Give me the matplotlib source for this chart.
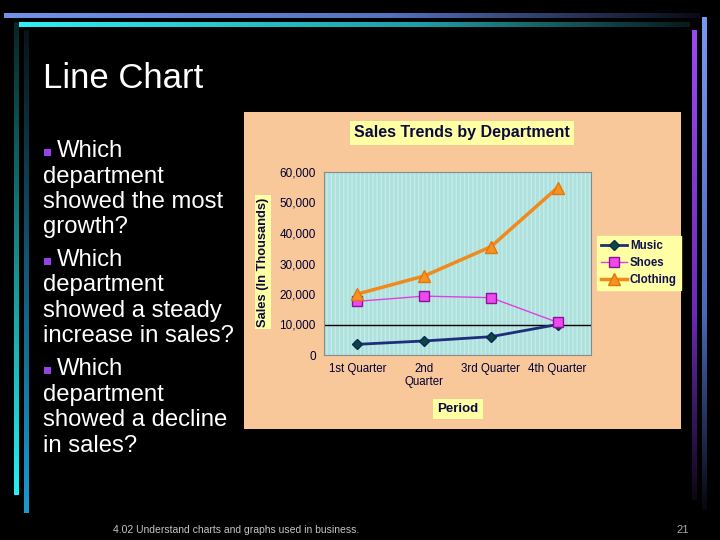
import numpy as np
import matplotlib
matplotlib.use('Agg')
import matplotlib.pyplot as plt
from matplotlib.colors import to_rgb
from matplotlib.patches import Rectangle

# 데이터
quarters = ['1st Quarter', '2nd\nQuarter', '3rd Quarter', '4th Quarter']
music = [3500, 4600, 6000, 10000]
shoes = [17600, 19300, 18800, 10700]
clothing = [20000, 25900, 35500, 54900]
y_ticks = [0, 10000, 20000, 30000, 40000, 50000, 60000]

bullets = [
    ['Which', 'department', 'showed the most', 'growth?'],
    ['Which', 'department', 'showed a steady', 'increase in sales?'],
    ['Which', 'department', 'showed a decline', 'in sales?'],
]

W, H = 720, 540
fig = plt.figure(figsize=(7.2, 5.4), dpi=100, facecolor='black')

# 배경 (픽셀 좌표계)
bg = fig.add_axes([0, 0, 1, 1])
bg.set_facecolor('black')
bg.axis('off')


def grad_bar(x0, x1, y0, y1, stops, horizontal=True):
    # stops: [(t, color), ...]
    t = np.linspace(0, 1, 256)
    ts = [s[0] for s in stops]
    rgb = np.array([to_rgb(s[1]) for s in stops])
    cols = np.stack([np.interp(t, ts, rgb[:, i]) for i in range(3)], axis=1)
    img = cols[None, :, :] if horizontal else cols[:, None, :]
    bg.imshow(img, extent=(x0, x1, y1, y0), aspect='auto', interpolation='bilinear')


grad_bar(4, 700, 13, 18, [(0, '#7292e8'), (0.55, '#5572c0'), (1, '#0a0a14')])
grad_bar(16, 690, 22, 27, [(0, '#30f0f4'), (0.6, '#1e9ea6'), (1, '#081a1c')])
grad_bar(14, 19, 22, 495, [(0, '#082424'), (0.5, '#168c8c'), (1, '#22f2f2')], horizontal=False)
grad_bar(24, 29, 30, 513, [(0, '#081418'), (0.5, '#125878'), (1, '#1a9ad2')], horizontal=False)
grad_bar(692, 697, 30, 500, [(0, '#9a4af2'), (0.6, '#6a2ab8'), (1, '#0c0614')], horizontal=False)
grad_bar(702, 707, 17, 510, [(0, '#7898f0'), (0.6, '#4a68b8'), (1, '#06060c')], horizontal=False)

# 차트 영역 배경
bg.add_patch(Rectangle((244, 112), 437, 317, facecolor='#f9c89a', edgecolor='none'))
bg.set_xlim(0, W)
bg.set_ylim(H, 0)

# 제목
bg.text(43, 78, 'Line Chart', color='white', fontsize=25,
        family='Liberation Sans', va='center', ha='left')

# 글머리 질문
y = 157
for para in bullets:
    bg.add_patch(Rectangle((44, y - 8), 7, 7, facecolor='#9444ea', edgecolor='none'))
    for i, line in enumerate(para):
        x = 57 if i == 0 else 43
        bg.text(x, y, line, color='white', fontsize=17.2, family='Liberation Sans',
                va='baseline', ha='left')
        y += 25.5
    y += 7

# 바닥글
bg.text(113, 530, '4.02 Understand charts and graphs used in business.',
        color='#c4c4c4', fontsize=7.5, family='Liberation Sans', va='center', ha='left')
bg.text(689, 530, '21', color='#a8a8a8', fontsize=8,
        family='Liberation Sans', va='center', ha='right')

# 플롯 영역
ax = fig.add_axes([324 / W, 1 - 355 / H, 267 / W, 183 / H])
ax.set_facecolor('#aee0dc')
ax.add_patch(Rectangle((0, 0), 1, 1, transform=ax.transAxes, facecolor='none',
                       edgecolor='#c4ecea', hatch='||||', lw=0, zorder=0))
x = np.arange(len(quarters))
ax.axhline(10000, color='black', lw=1, zorder=1)
ax.plot(x, music, color='#1e2e78', lw=2, marker='D', ms=5,
        mfc='#0e4444', mec='#0a2a50', label='Music', zorder=3)
ax.plot(x, shoes, color='#e040e0', lw=1, marker='s', ms=7,
        mfc='#ee48ee', mec='#8a1498', label='Shoes', zorder=3)
ax.plot(x, clothing, color='#f08a1c', lw=2.5, marker='^', ms=9,
        mfc='#f8921e', mec='#e07810', label='Clothing', zorder=3)

ax.set_xlim(-0.5, 3.5)
ax.set_ylim(0, 60000)
ax.set_yticks(y_ticks)
ax.set_yticklabels([f'{v:,}' for v in y_ticks], fontsize=8.5,
                   color='#000033', family='Liberation Sans')
ax.set_xticks(x)
ax.set_xticklabels(quarters, fontsize=8.3, color='#000033',
                   family='Liberation Sans', linespacing=1.1)
ax.tick_params(length=0, pad=6)
for s in ax.spines.values():
    s.set_color('#8a8a8a')
    s.set_linewidth(0.8)

leg = ax.legend(loc='center', bbox_to_anchor=(639 / W, 1 - 263 / H),
                bbox_transform=fig.transFigure, frameon=True, fancybox=False,
                facecolor='#ffffa4', edgecolor='#ffffa4', framealpha=1,
                handlelength=2.2, borderpad=0.35,
                labelspacing=0.4, handletextpad=0.3,
                prop={'family': 'Liberation Sans', 'weight': 'bold', 'size': 8.3})
for t in leg.get_texts():
    t.set_color('#101050')

box = dict(facecolor='#ffffa4', edgecolor='none', pad=3)
fig.text(462 / W, 1 - 133 / H, 'Sales Trends by Department', ha='center', va='center',
         fontsize=11.5, weight='bold', color='#0a0a40', family='Liberation Sans', bbox=box)
fig.text(263 / W, 1 - 262 / H, 'Sales (In Thousands)', ha='center', va='center',
         rotation=90, fontsize=9.3, weight='bold', color='#0a0a40',
         family='Liberation Sans', bbox=dict(facecolor='#ffffa4', edgecolor='none', pad=1.5))
fig.text(458 / W, 1 - 409 / H, 'Period', ha='center', va='center',
         fontsize=9.5, weight='bold', color='#0a0a40', family='Liberation Sans', bbox=box)

fig.savefig('out.png', dpi=100, facecolor='black')
